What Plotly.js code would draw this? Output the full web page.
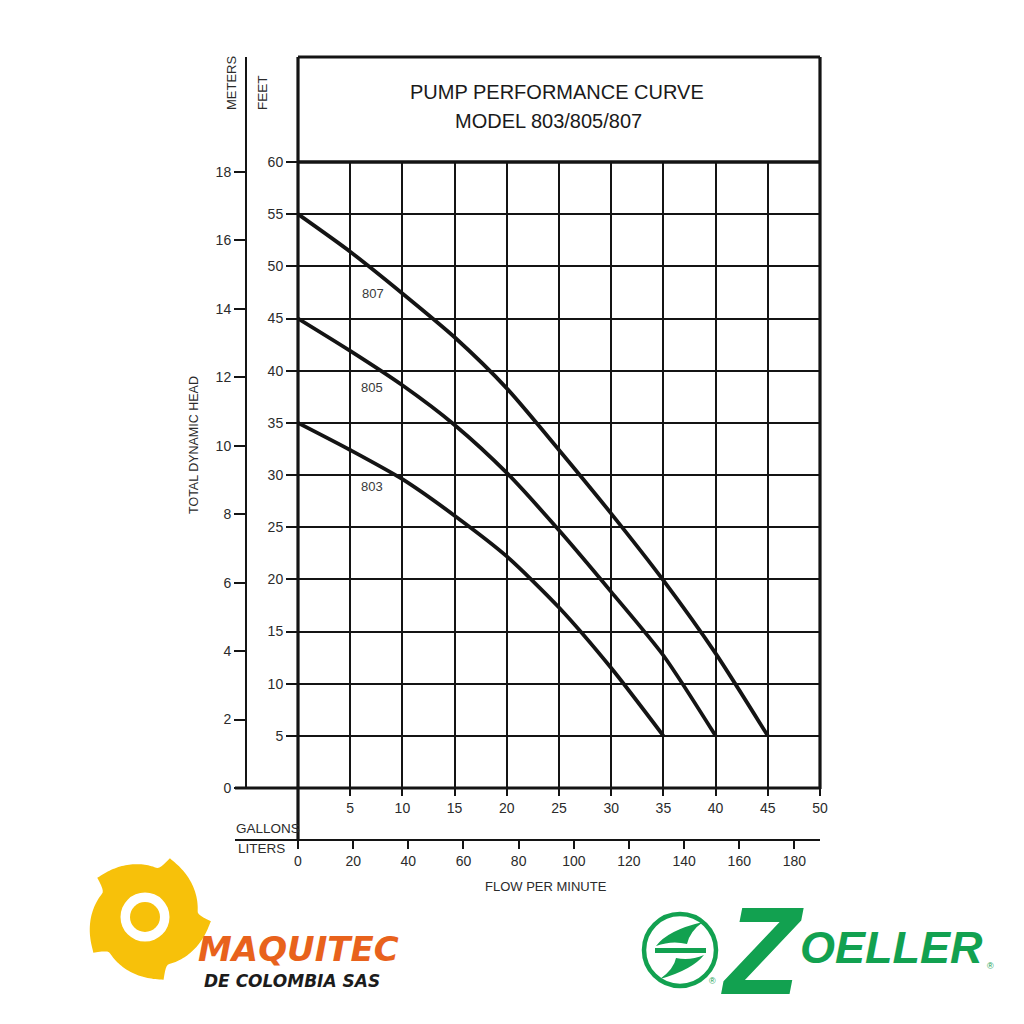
<!DOCTYPE html>
<html>
<head>
<meta charset="utf-8">
<script src="https://cdn.plot.ly/plotly-3.0.1.min.js"></script>
<style>html,body{margin:0;padding:0;background:#fff;}#chart{width:1024px;height:1024px;}</style>
</head>
<body>
<div id="chart"></div>
<script>
// ---------- data ----------
const gallons807 = [0, 5, 10, 15, 20, 25, 30, 35, 40, 45];
const head807    = [55, 51.4, 47.4, 43.2, 38.3, 32.4, 26.3, 19.9, 12.9, 5];
const gallons805 = [0, 5, 10, 15, 20, 25, 30, 35, 40];
const head805    = [45, 41.9, 38.6, 34.8, 30.2, 24.7, 18.8, 12.7, 5];
const gallons803 = [0, 5, 10, 15, 20, 25, 30, 35];
const head803    = [35, 32.4, 29.6, 26.1, 22.2, 17.3, 11.5, 5];
const modelNames = ['807', '805', '803'];
const labelGallons = [7.15, 7.1, 7.1];
const labelFeet    = [47.4, 38.4, 28.9];

const gallonTicks = [5, 10, 15, 20, 25, 30, 35, 40, 45, 50];
const literTicks  = [0, 20, 40, 60, 80, 100, 120, 140, 160, 180];
const feetTicks   = [5, 10, 15, 20, 25, 30, 35, 40, 45, 50, 55, 60];
const meterTicks  = [0, 2, 4, 6, 8, 10, 12, 14, 16, 18];
const maxGallons = 50, maxFeet = 60;
const LITERS_PER_GALLON = 3.78541, METERS_PER_FOOT = 0.3048;

const titleLine1 = 'PUMP PERFORMANCE CURVE';
const titleLine2 = 'MODEL 803/805/807';

// ---------- helpers: pixel -> paper ----------
const L = 298, R = 820, T = 162, B = 840;
const px = X => (X - L) / (R - L);
const py = Y => (B - Y) / (B - T);
const toPaper = d => d.replace(/(-?[\d.]+),(-?[\d.]+)/g, (m, a, b) => px(+a).toFixed(5) + ',' + py(+b).toFixed(5));

const FONT = '"Liberation Sans", Arial, sans-serif';
const TXT = '#2b2b2b';
const INK = '#141414';

// ---------- traces ----------
const curveStyle = {mode: 'lines', line: {color: INK, width: 3.8, shape: 'spline', smoothing: 0.7}, hoverinfo: 'skip', showlegend: false, xaxis: 'x', yaxis: 'y'};
const traces = [
  Object.assign({x: gallons807, y: head807, name: '807'}, curveStyle),
  Object.assign({x: gallons805, y: head805, name: '805'}, curveStyle),
  Object.assign({x: gallons803, y: head803, name: '803'}, curveStyle),
  {x: [], y: [], xaxis: 'x2', yaxis: 'y', mode: 'lines', showlegend: false, hoverinfo: 'skip'},
  {x: [], y: [], xaxis: 'x', yaxis: 'y2', mode: 'lines', showlegend: false, hoverinfo: 'skip'}
];

// ---------- shapes ----------
const line = (x0, y0, x1, y1, w, c) => ({type: 'line', xref: 'paper', yref: 'paper', x0: px(x0), y0: py(y0), x1: px(x1), y1: py(y1), line: {color: c || INK, width: w}});
const shapes = [
  line(298, 57, 820, 57, 3),
  line(298, 162, 820, 162, 3.5),
  line(298, 57, 298, 840, 3.2),
  line(820, 57, 820, 789, 3.2),
  line(235, 788, 821, 788, 3.2),
  line(235, 840, 820, 840, 2.2),
  line(246, 57, 246, 163, 2)
];

// gear logo (saw-blade shape)
(function () {
  const cx = 147, cy = 918, tips = [-69, 3, 75, 147, 219];
  let d = '';
  for (let i = 0; i < 5; i++) {
    const a0 = tips[i], a1 = tips[i] + 72;
    for (let s = 0; s <= 40; s++) {
      const t = s / 40;
      const r = t <= 0.86 ? 64 - 13 * Math.pow(t / 0.86, 0.8) : 51 + 13 * Math.pow((t - 0.86) / 0.14, 2);
      const a = (a0 + (a1 - a0) * t) * Math.PI / 180;
      const X = cx + r * Math.cos(a), Y = cy + r * Math.sin(a);
      d += (d === '' ? 'M' : 'L') + X.toFixed(2) + ',' + Y.toFixed(2) + ' ';
    }
  }
  shapes.push({type: 'path', xref: 'paper', yref: 'paper', path: toPaper(d + 'Z'), fillcolor: '#F7C10A', line: {width: 0}});
  const circ = (x, y, r, fill) => ({type: 'circle', xref: 'paper', yref: 'paper', x0: px(x - r), x1: px(x + r), y0: py(y + r), y1: py(y - r), fillcolor: fill, line: {width: 0}});
  shapes.push(circ(145, 917, 24.5, '#ffffff'));
  shapes.push(circ(145, 917, 15, '#F7C10A'));
})();

// Zoeller emblem
const GREEN = '#12A150';
shapes.push({type: 'circle', xref: 'paper', yref: 'paper', x0: px(644), x1: px(716), y0: py(986), y1: py(914), fillcolor: 'rgba(0,0,0,0)', line: {color: GREEN, width: 4.5}});
shapes.push({type: 'path', xref: 'paper', yref: 'paper', fillcolor: GREEN, line: {width: 0},
  path: toPaper('M656,946 Q668,930 703,922 Q690,931 687,944 Q672,940 656,946 Z')});
shapes.push({type: 'path', xref: 'paper', yref: 'paper', fillcolor: GREEN, line: {width: 0},
  path: toPaper('M655,948 L706,948 L706,953 L655,953 Z')});
shapes.push({type: 'path', xref: 'paper', yref: 'paper', fillcolor: GREEN, line: {width: 0},
  path: toPaper('M704,955 Q692,970 660,979 Q674,969 676,958 Q690,961 704,955 Z')});

// ---------- annotations ----------
const ann = (text, X, Y, o) => Object.assign({text: text, xref: 'paper', yref: 'paper', x: px(X), y: py(Y), showarrow: false,
  xanchor: 'center', yanchor: 'middle', font: {family: FONT, size: 13, color: TXT}}, o || {});
const annotations = [
  ann(titleLine1, 557, 92, {font: {family: FONT, size: 20, color: '#1a1a1a'}}),
  ann(titleLine2, 453, 121, {xanchor: 'left', font: {family: FONT, size: 20, color: '#1a1a1a'}}),
  ann('METERS', 231, 83, {textangle: -90, font: {family: FONT, size: 13, color: TXT}}),
  ann('FEET', 263, 93, {textangle: -90, font: {family: FONT, size: 13.5, color: TXT}}),
  ann('TOTAL DYNAMIC HEAD', 194, 445, {textangle: -90, font: {family: FONT, size: 12.5, color: TXT}}),
  ann('GALLONS', 234, 828, {xanchor: 'left', font: {family: FONT, size: 13.5, color: TXT}}),
  ann('LITERS', 236, 849, {xanchor: 'left', font: {family: FONT, size: 13.5, color: TXT}}),
  ann('FLOW PER MINUTE', 546, 886, {font: {family: FONT, size: 13, color: TXT}}),
  // logos text
  ann('MAQUITEC', 298, 949, {font: {family: '"DejaVu Sans", sans-serif', size: 34, color: '#E8621C', weight: 'bold', style: 'italic'}}),
  ann('DE COLOMBIA SAS', 292, 981, {font: {family: '"DejaVu Sans", sans-serif', size: 17, color: '#1c1c1c', weight: 'bold', style: 'italic'}}),
  ann('Z', 762, 951, {font: {family: FONT, size: 124, color: GREEN, weight: 'bold', style: 'italic'}}),
  ann('OELLER', 798, 947, {xanchor: 'left', font: {family: FONT, size: 45, color: GREEN, weight: 'bold', style: 'italic'}}),
  ann('®', 712, 981, {font: {family: FONT, size: 9, color: GREEN}}),
  ann('®', 990, 966, {font: {family: FONT, size: 9, color: GREEN}})
];
modelNames.forEach((m, i) => annotations.push({text: m, x: labelGallons[i], y: labelFeet[i], xref: 'x', yref: 'y',
  showarrow: false, font: {family: FONT, size: 13, color: '#3a3a3a'}}));

// ---------- layout ----------
const tickFont = {family: FONT, size: 14, color: TXT};
const layout = {
  width: 1024, height: 1024,
  margin: {l: L, r: 1024 - R, t: T, b: 1024 - B, pad: 0},
  paper_bgcolor: '#fff', plot_bgcolor: '#fff',
  showlegend: false,
  xaxis: {range: [0, maxGallons], domain: [0, 1], anchor: 'y', tickvals: gallonTicks, ticks: 'outside', ticklen: 7, tickwidth: 2, tickcolor: INK,
    showgrid: true, gridcolor: INK, gridwidth: 2, zeroline: false, showline: false, tickfont: tickFont, fixedrange: true},
  xaxis2: {range: [0, maxGallons * LITERS_PER_GALLON], overlaying: 'x', anchor: 'free', position: 0, side: 'bottom', tickvals: literTicks,
    ticks: 'outside', ticklen: 8, tickwidth: 2, tickcolor: INK, showgrid: false, zeroline: false, showline: false, tickfont: tickFont, fixedrange: true},
  yaxis: {range: [0, maxFeet], domain: [py(788), 1], anchor: 'x', tickvals: feetTicks, ticks: 'outside', ticklen: 11, tickwidth: 2, tickcolor: INK,
    showgrid: true, gridcolor: INK, gridwidth: 2, zeroline: false, showline: false, tickfont: tickFont, fixedrange: true},
  yaxis2: {range: [0, maxFeet * METERS_PER_FOOT], domain: [py(788), 1], overlaying: 'y', anchor: 'free', position: 0, shift: -52, side: 'left',
    tickvals: meterTicks, ticks: 'outside', ticklen: 11, tickwidth: 2, tickcolor: INK, showgrid: false, zeroline: false,
    showline: true, linecolor: INK, linewidth: 2, tickfont: tickFont, fixedrange: true},
  shapes: shapes,
  annotations: annotations
};

Plotly.newPlot('chart', traces, layout, {displayModeBar: false, staticPlot: true});
</script>
</body>
</html>
